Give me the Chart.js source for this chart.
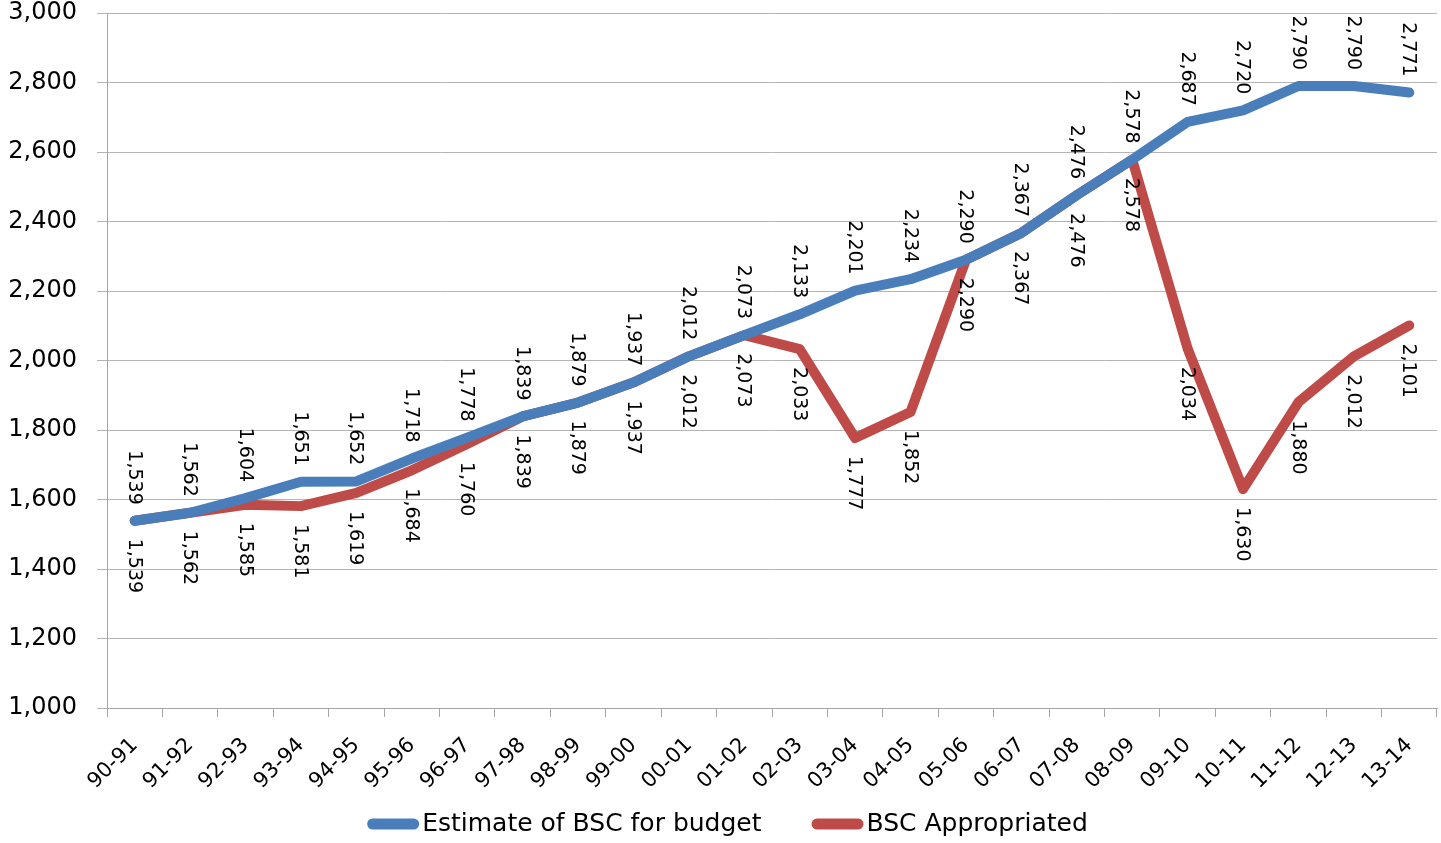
<!DOCTYPE html>
<html lang="en">
<head>
  <meta charset="UTF-8">
  <title>BSC estimate vs appropriated</title>
  <script src="https://cdn.jsdelivr.net/npm/chart.js@4.4.1/dist/chart.umd.min.js"></script>
  <style>
    html, body { margin: 0; padding: 0; background: #fff; }
    #wrap { width: 1441px; height: 843px; }
  </style>
</head>
<body>
  <div id="wrap"><canvas id="grafico"></canvas></div>
  <script>
    const anios = ["90-91","91-92","92-93","93-94","94-95","95-96","96-97","97-98","98-99","99-00",
      "00-01","01-02","02-03","03-04","04-05","05-06","06-07","07-08","08-09","09-10",
      "10-11","11-12","12-13","13-14"];
    const estimado = [1539,1562,1604,1651,1652,1718,1778,1839,1879,1937,2012,2073,2133,2201,2234,2290,2367,2476,2578,2687,2720,2790,2790,2771];
    const asignado = [1539,1562,1585,1581,1619,1684,1760,1839,1879,1937,2012,2073,2033,1777,1852,2290,2367,2476,2578,2034,1630,1880,2012,2101];
    const ejeY = [1000,1200,1400,1600,1800,2000,2200,2400,2600,2800,3000];

    const AZUL = '#4a7ebb';
    const ROJO = '#be4b48';
    const fmt = v => v.toLocaleString('en-US');

    // etiquetas verticales: estimado encima del punto, asignado debajo
    const etiquetas = {
      id: 'etiquetas',
      afterDatasetsDraw(chart) {
        const ctx = chart.ctx;
        ctx.save();
        ctx.font = '19px "DejaVu Sans"';
        ctx.fillStyle = '#000';
        ctx.textBaseline = 'middle';
        chart.data.datasets.forEach((ds, i) => {
          const meta = chart.getDatasetMeta(i);
          meta.data.forEach((pt, j) => {
            const arriba = i === 0;
            ctx.save();
            ctx.translate(pt.x - 1, arriba ? pt.y - 16 : pt.y + 18);
            ctx.rotate(Math.PI / 2);
            ctx.textAlign = arriba ? 'right' : 'left';
            ctx.fillText(fmt(ds.data[j]), 0, 0);
            ctx.restore();
          });
        });
        ctx.restore();
      }
    };

    // leyenda abajo, caja pegada al texto como en el original
    const leyenda = {
      id: 'leyenda',
      afterDraw(chart) {
        const ctx = chart.ctx;
        const caja = 52, alto = 11, hueco = 3, sep = 50;
        ctx.save();
        ctx.font = '25px "DejaVu Sans"';
        ctx.textBaseline = 'middle';
        const items = chart.data.datasets.map(ds => ({ t: ds.label, c: ds.borderColor, w: ctx.measureText(ds.label).width }));
        const total = items.reduce((a, it) => a + caja + hueco + it.w, 0) + sep * (items.length - 1);
        let x = (chart.width - total) / 2 + 7;
        const y = 824;
        items.forEach(it => {
          ctx.fillStyle = it.c;
          ctx.beginPath();
          ctx.roundRect(x, y - alto / 2, caja, alto, alto / 2);
          ctx.fill();
          ctx.fillStyle = '#000';
          ctx.fillText(it.t, x + caja + hueco, y);
          x += caja + hueco + it.w + sep;
        });
        ctx.restore();
      }
    };

    new Chart(document.getElementById('grafico'), {
      type: 'line',
      data: {
        labels: anios,
        datasets: [
          { label: 'Estimate of BSC for budget', data: estimado, borderColor: AZUL, backgroundColor: AZUL,
            borderWidth: 10, pointRadius: 0, tension: 0, borderCapStyle: 'round', borderJoinStyle: 'round' },
          { label: 'BSC Appropriated', data: asignado, borderColor: ROJO, backgroundColor: ROJO,
            borderWidth: 10, pointRadius: 0, tension: 0, borderCapStyle: 'round', borderJoinStyle: 'round' }
        ]
      },
      options: {
        responsive: true,
        maintainAspectRatio: false,
        animation: false,
        layout: { padding: { left: 7, right: 4, top: 13, bottom: 33 } },
        plugins: {
          tooltip: { enabled: false },
          legend: { display: false }
        },
        scales: {
          x: {
            offset: true,
            afterFit(s) { s.paddingLeft = 0; s.paddingRight = 0; },
            grid: { display: true, drawOnChartArea: false, offset: true, tickLength: 9, color: '#a6a6a6' },
            border: { color: '#a6a6a6' },
            ticks: {
              autoSkip: false, maxRotation: 45, minRotation: 45, padding: 16,
              color: '#000', font: { family: '"DejaVu Sans"', size: 21 }
            }
          },
          y: {
            min: 1000,
            max: 3000,
            afterFit(s) { s.paddingTop = 0; s.paddingBottom = 0; s.width = 100; },
            afterBuildTicks(axis) { axis.ticks = ejeY.map(v => ({ value: v })); },
            grid: { color: '#b4b4b4', tickLength: 10 },
            border: { color: '#a6a6a6' },
            ticks: {
              padding: 20,
              color: '#000',
              font: { family: '"DejaVu Sans"', size: 24 },
              callback: v => fmt(v)
            }
          }
        }
      },
      plugins: [etiquetas, leyenda]
    });
  </script>
</body>
</html>
